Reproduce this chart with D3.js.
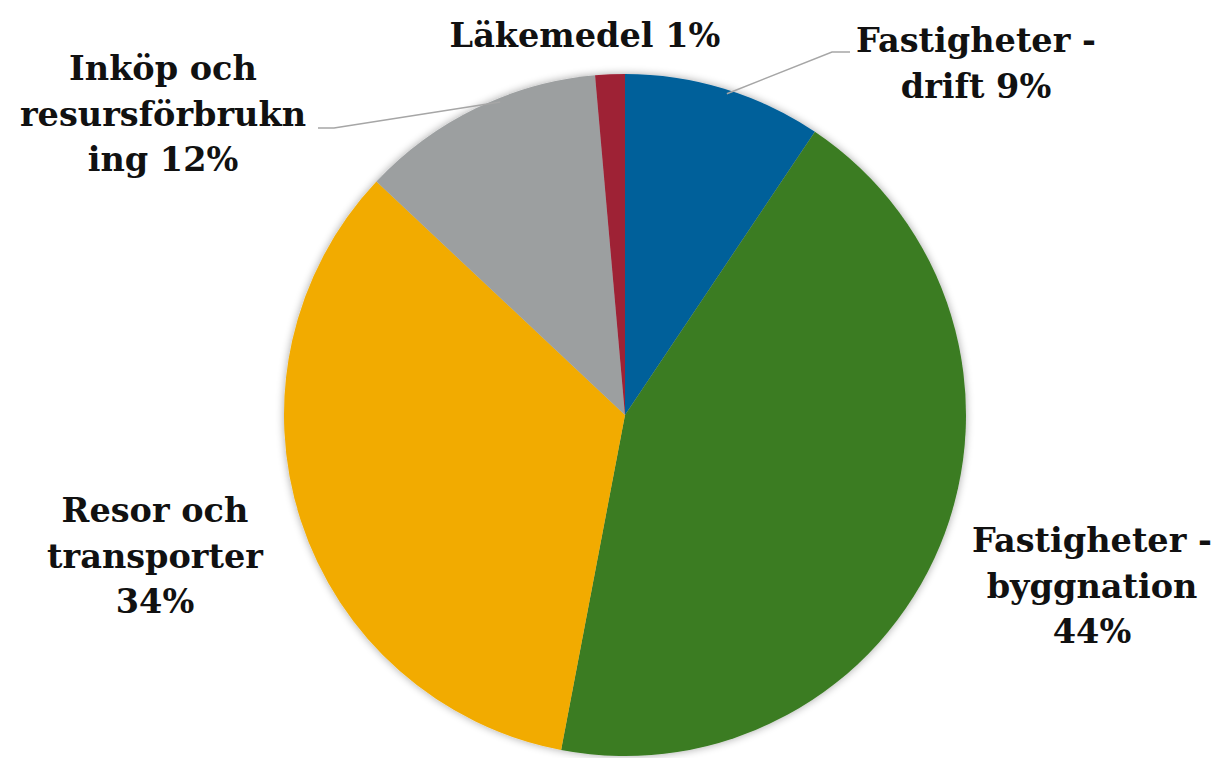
<!DOCTYPE html>
<html><head><meta charset="utf-8">
<script src="https://cdn.jsdelivr.net/npm/d3@7/dist/d3.min.js"></script>
<style>body{margin:0;background:#fff}svg{display:block}</style>
</head><body>
<svg id="c" width="1220" height="758"></svg>
<script>
const categories = ["Fastigheter - drift","Fastigheter - byggnation","Resor och transporter","Inköp och resursförbrukning","Läkemedel"];
const values = [9.4, 43.6, 34.0, 11.6, 1.4];
const colors = ["#04609A","#3A7B22","#F2AB00","#9C9FA0","#9E2236"];
// label lines (text split as in the picture)
const labelLines = [
  ["Fastigheter -","drift {p}"],
  ["Fastigheter -","byggnation","{p}"],
  ["Resor och","transporter","{p}"],
  ["Inköp och","resursförbrukn","ing {p}"],
  ["Läkemedel {p}"]
];
const labelPos = [[976,52],[1092,552],[155,522],[163,80],[585,47]];

const svg = d3.select("#c");
const cx = 625, cy = 415, R = 341;
const defs = svg.append("defs");
const f = defs.append("filter").attr("id","sh").attr("x","-10%").attr("y","-10%").attr("width","120%").attr("height","120%");
f.append("feGaussianBlur").attr("in","SourceAlpha").attr("stdDeviation",4).attr("result","b");
f.append("feComponentTransfer").attr("in","b").attr("result","o2").append("feFuncA").attr("type","linear").attr("slope",0.35);
const m = f.append("feMerge"); m.append("feMergeNode").attr("in","o2"); m.append("feMergeNode").attr("in","SourceGraphic");

const pie = d3.pie().sort(null).value(d=>d);
const arcs = pie(values);
const arc = d3.arc().innerRadius(0).outerRadius(R);
const g = svg.append("g").attr("transform",`translate(${cx},${cy})`).attr("filter","url(#sh)");
g.selectAll("path").data(arcs).join("path").attr("d",arc).attr("fill",(d,i)=>colors[i]);

function leader(pts){
  svg.append("polyline").attr("points",pts.map(p=>p.join(",")).join(" "))
    .attr("fill","none").attr("stroke","#A6A6A6").attr("stroke-width",1.5);
}
function edgePoint(a, frac){
  const ang = a.startAngle + (a.endAngle-a.startAngle)*frac;
  return [cx + (R-4)*Math.sin(ang), cy - (R-4)*Math.cos(ang)];
}
leader([edgePoint(arcs[0],0.52),[832,52],[850,52]]);
leader([edgePoint(arcs[3],0.6),[334,128],[318,128]]);

const fmt = v => Math.round(v) + "%";
labelLines.forEach((lines,i)=>{
  const t = svg.append("text").attr("x",labelPos[i][0]).attr("y",labelPos[i][1])
    .attr("text-anchor","middle").attr("font-family","'DejaVu Serif', serif")
    .attr("font-weight","bold").attr("font-size",33.5).attr("fill","#111");
  lines.forEach((ln,j)=>{
    t.append("tspan").attr("x",labelPos[i][0]).attr("dy", j===0?0:45.5).text(ln.replace("{p}",fmt(values[i])));
  });
});
</script>
</body></html>
